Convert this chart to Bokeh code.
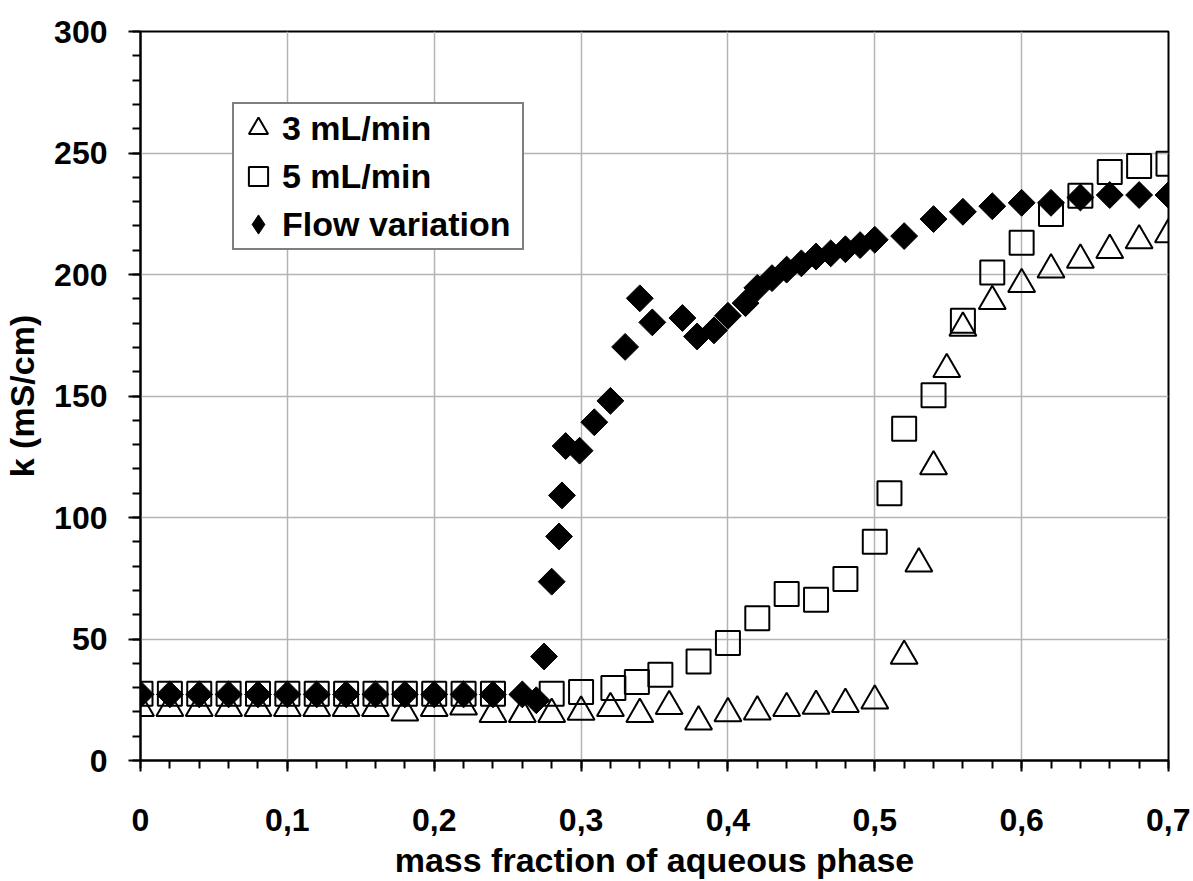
import numpy as np
from bokeh.plotting import figure
from bokeh.models import Range1d, FixedTicker, Legend, LegendItem
from bokeh.embed import file_html
from bokeh.resources import INLINE

# ---- data ----
tri_x = [0.00, 0.02, 0.04, 0.06, 0.08, 0.10, 0.12, 0.14, 0.16, 0.18, 0.20, 0.22, 0.24,
         0.26, 0.28, 0.30, 0.32, 0.34, 0.36, 0.38, 0.40, 0.42, 0.44, 0.46, 0.48, 0.50,
         0.52, 0.53, 0.54, 0.549, 0.56, 0.58, 0.60, 0.62, 0.64, 0.66, 0.68, 0.70]
tri_k = [21.5, 21.5, 21.5, 21.5, 21.5, 21.5, 21.5, 21.5, 21.5, 19.7, 21.5, 22.1, 19.1,
         19.1, 19.1, 20.0, 21.5, 19.1, 22.3, 16.0, 19.4, 20.1, 21.5, 22.4, 23.2, 24.6,
         43.0, 81.0, 121.0, 161.0, 178.0, 189.0, 196.0, 202.0, 206.0, 210.0, 214.0, 216.5]

sq_x = [0.00, 0.02, 0.04, 0.06, 0.08, 0.10, 0.12, 0.14, 0.16, 0.18, 0.20, 0.22, 0.24,
        0.28, 0.30, 0.322, 0.338, 0.354, 0.38, 0.40, 0.42, 0.44, 0.46, 0.48, 0.50,
        0.51, 0.52, 0.54, 0.56, 0.58, 0.60, 0.62, 0.64, 0.66, 0.68, 0.70]
sq_k = [27.5, 27.5, 27.5, 27.5, 27.5, 27.5, 27.5, 27.5, 27.5, 27.5, 27.5, 27.5, 27.5,
        27.5, 28.2, 29.8, 32.3, 35.3, 40.7, 48.4, 58.5, 68.5, 66.2, 74.7, 90.0,
        110.0, 136.5, 150.3, 181.0, 200.8, 213.1, 224.9, 232.4, 242.2, 244.7, 245.6]

fv_x = [0.00, 0.02, 0.04, 0.06, 0.08, 0.10, 0.12, 0.14, 0.16, 0.18, 0.20, 0.22, 0.24,
        0.26, 0.2695, 0.2748, 0.28, 0.285, 0.287, 0.2895, 0.299, 0.309, 0.32, 0.33,
        0.34, 0.3485, 0.369, 0.379, 0.3905, 0.40, 0.412, 0.42, 0.43, 0.44, 0.45, 0.46,
        0.47, 0.48, 0.49, 0.50, 0.52, 0.54, 0.56, 0.58, 0.60, 0.62, 0.64, 0.66, 0.68, 0.70]
fv_k = [27.2, 27.2, 27.2, 27.2, 27.2, 27.2, 27.2, 27.2, 27.2, 27.2, 27.2, 27.2, 27.2,
        27.2, 24.8, 42.8, 73.6, 92.2, 109.1, 129.4, 127.5, 139.2, 148.0, 170.2,
        190.2, 180.3, 182.1, 174.5, 177.0, 183.0, 188.2, 194.5, 198.5, 202.0, 204.6, 207.4,
        208.7, 210.4, 212.1, 214.3, 215.8, 222.8, 225.8, 228.1, 229.5, 229.5, 231.7, 232.7, 232.7, 232.7]

x_ticks = [0.0, 0.1, 0.2, 0.3, 0.4, 0.5, 0.6, 0.7]
x_tick_labels = ["0", "0,1", "0,2", "0,3", "0,4", "0,5", "0,6", "0,7"]
y_ticks = [0, 50, 100, 150, 200, 250, 300]
y_tick_labels = ["0", "50", "100", "150", "200", "250", "300"]

series_names = ["3 mL/min", "5 mL/min", "Flow variation"]
x_title = "mass fraction of aqueous phase"
y_title = "k (mS/cm)"

FONT = "Liberation Sans"

p = figure(width=1190, height=881, output_backend="svg", toolbar_location=None,
           x_range=Range1d(0, 0.7), y_range=Range1d(0, 300),
           min_border_left=140, min_border_right=22, min_border_top=31, min_border_bottom=119)

p.background_fill_color = "white"
p.border_fill_color = "white"
p.outline_line_color = "black"
p.outline_line_width = 2

# ticks
p.xaxis.ticker = FixedTicker(ticks=x_ticks, minor_ticks=list(np.round(np.arange(0, 0.7001, 0.02), 3)))
p.yaxis.ticker = FixedTicker(ticks=y_ticks, minor_ticks=list(range(0, 301, 10)))
p.xaxis.major_label_overrides = {t: l for t, l in zip(x_ticks, x_tick_labels)}
p.yaxis.major_label_overrides = {t: l for t, l in zip(y_ticks, y_tick_labels)}

for ax in (p.xaxis, p.yaxis):
    ax.axis_line_color = "black"
    ax.axis_line_width = 2
    ax.major_tick_line_color = "black"
    ax.major_tick_line_width = 2
    ax.minor_tick_line_color = "black"
    ax.minor_tick_line_width = 2
    ax.major_tick_in = 0
    ax.minor_tick_in = 0
    ax.minor_tick_out = 8
    ax.major_label_text_font = FONT
    ax.major_label_text_font_style = "bold"
    ax.major_label_text_font_size = "32px"
    ax.major_label_text_color = "black"
    ax.axis_label_text_font = FONT
    ax.axis_label_text_font_style = "bold"
    ax.axis_label_text_font_size = "34px"
    ax.axis_label_text_color = "black"

p.xaxis.major_tick_out = 11
p.yaxis.major_tick_out = 12
p.xaxis.major_label_standoff = 37
p.yaxis.major_label_standoff = 21
p.xaxis.axis_label = x_title
p.yaxis.axis_label = y_title
p.xaxis.axis_label_standoff = 7
p.yaxis.axis_label_standoff = 10

p.xgrid.grid_line_color = "#b4b4b4"
p.ygrid.grid_line_color = "#b4b4b4"
p.xgrid.grid_line_width = 1.5
p.ygrid.grid_line_width = 1.5

r_sq = p.scatter(sq_x, sq_k, marker="square", size=24, line_color="black", line_width=2,
                 fill_alpha=0)
r_tri = p.scatter(tri_x, tri_k, marker="triangle", size=27, line_color="black", line_width=2,
                  fill_alpha=0)
r_fv = p.scatter(fv_x, fv_k, marker="square", angle=np.pi / 4, size=19, line_color="black",
                 line_width=1, fill_color="black")
# legend swatch for the diamond series (legend ignores marker rotation); zero size on the plot
r_fv_key = p.scatter(fv_x[:1], fv_k[:1], marker="diamond", size=0, line_color="black",
                     line_width=1, fill_color="black")

legend = Legend(items=[LegendItem(label=series_names[0], renderers=[r_tri]),
                       LegendItem(label=series_names[1], renderers=[r_sq]),
                       LegendItem(label=series_names[2], renderers=[r_fv_key])],
                location=(92, 510))
legend.glyph_width = 48
legend.glyph_height = 48
legend.label_height = 40
legend.label_width = 240
legend.spacing = 0
legend.padding = 0
legend.margin = 0
legend.label_standoff = 0
legend.label_text_font = FONT
legend.label_text_font_style = "bold"
legend.label_text_font_size = "34px"
legend.label_text_color = "black"
legend.border_line_color = "black"
legend.border_line_width = 2
legend.background_fill_color = "white"
legend.background_fill_alpha = 1
p.add_layout(legend)

open("out.html", "w").write(file_html(p, INLINE))
